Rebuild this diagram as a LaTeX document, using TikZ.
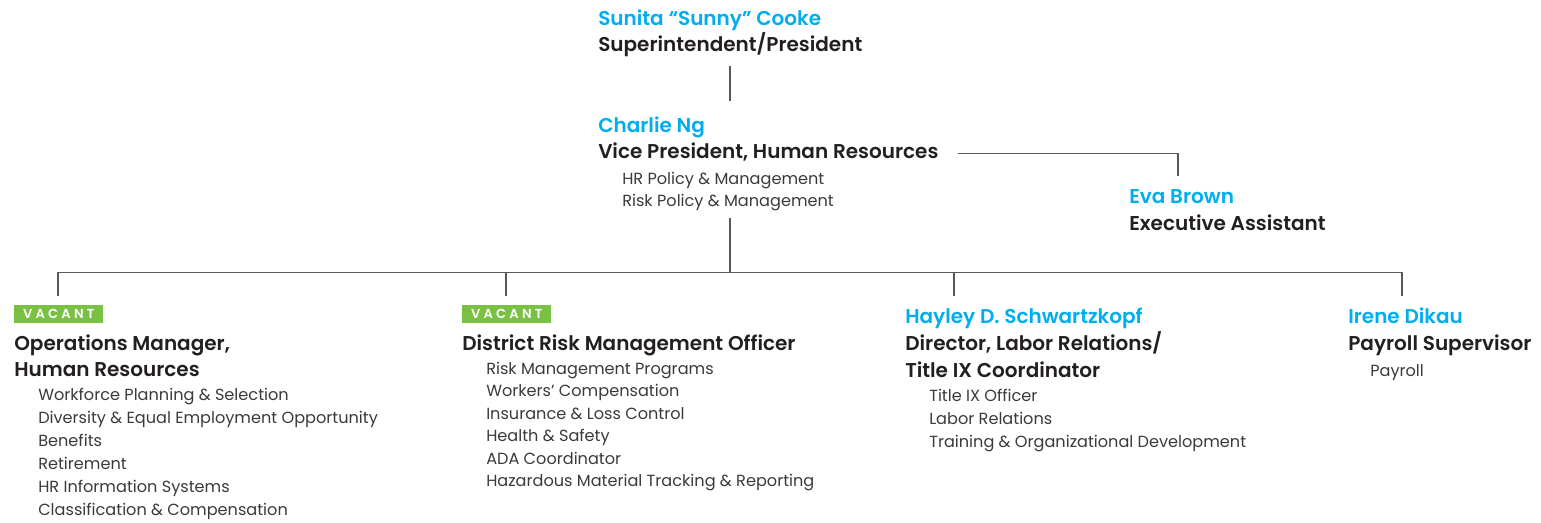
\documentclass[tikz,border=0pt]{standalone}
\usepackage{fontspec}
\setmainfont{Poppins}[BoldFont={Poppins SemiBold}]
\definecolor{namecyan}{HTML}{00AEEF}
\definecolor{titleblack}{HTML}{231F20}
\definecolor{itemgray}{HTML}{3A3A3A}
\definecolor{vacgreen}{HTML}{7AC143}
\definecolor{linegray}{HTML}{58595B}
\tikzset{
  nm/.style={anchor=base west, inner sep=0pt, text=namecyan, font=\fontsize{15}{16}\selectfont\bfseries},
  ttl/.style={anchor=base west, inner sep=0pt, text=titleblack, font=\fontsize{15}{16}\selectfont\bfseries},
  itm/.style={anchor=base west, inner sep=0pt, text=itemgray, font=\fontsize{12.1}{14}\selectfont},
  vac/.style={anchor=north west, inner sep=0pt, fill=vacgreen, text=white, minimum width=66.75pt, minimum height=13.5pt, font=\fontsize{9.8}{10}\selectfont\bfseries\addfontfeatures{LetterSpace=25}},
  conn/.style={draw=linegray, line width=1.1pt}
}
\begin{document}
\begin{tikzpicture}[x=0.75pt, y=-0.75pt]
\useasboundingbox (0,0) rectangle (1541,522);
% top
\node[nm]  (sunnyN) at (598,25)   {Sunita “Sunny” Cooke};
\node[ttl] (sunnyT) at (598,51.5) {Superintendent/President};
\node[nm]  (charlieN) at (598,132) {Charlie Ng};
\node[ttl] (charlieT) at (598,158) {Vice President, Human Resources};
\node[itm] (charlieA) at (622,184) {HR Policy \& Management};
\node[itm] (charlieB) at (622,206.5) {Risk Policy \& Management};
\node[nm]  (evaN) at (1129,203.3) {Eva Brown};
\node[ttl] (evaT) at (1129,230.7) {Executive Assistant};
% column 1
\node[vac] (vac1) at (14,305) {VACANT};
\node[ttl] (opsT1) at (14,350) {Operations Manager,};
\node[ttl] (opsT2) at (14,376.7) {Human Resources};
\node[itm] (ops1) at (38,400) {Workforce Planning \& Selection};
\node[itm] (ops2) at (38,423) {Diversity \& Equal Employment Opportunity};
\node[itm] (ops3) at (38,446) {Benefits};
\node[itm] (ops4) at (38,469) {Retirement};
\node[itm] (ops5) at (38,492) {HR Information Systems};
\node[itm] (ops6) at (38,515) {Classification \& Compensation};
% column 2
\node[vac] (vac2) at (462,305) {VACANT};
\node[ttl] (riskT) at (462,350) {District Risk Management Officer};
\node[itm] (risk1) at (486,374.3) {Risk Management Programs};
\node[itm] (risk2) at (486,396.8) {Workers’ Compensation};
\node[itm] (risk3) at (486,419.3) {Insurance \& Loss Control};
\node[itm] (risk4) at (486,441.8) {Health \& Safety};
\node[itm] (risk5) at (486,464.3) {ADA Coordinator};
\node[itm] (risk6) at (486,486.8) {Hazardous Material Tracking \& Reporting};
% column 3
\node[nm]  (hayN) at (905,323) {Hayley D. Schwartzkopf};
\node[ttl] (hayT1) at (905,350.7) {Director, Labor Relations/};
\node[ttl] (hayT2) at (905,377) {Title IX Coordinator};
\node[itm] (hay1) at (929,401.7) {Title IX Officer};
\node[itm] (hay2) at (929,424.5) {Labor Relations};
\node[itm] (hay3) at (929,447.3) {Training \& Organizational Development};
% column 4
\node[nm]  (ireN) at (1348,323) {Irene Dikau};
\node[ttl] (ireT) at (1348,350.7) {Payroll Supervisor};
\node[itm] (ire1) at (1370,376) {Payroll};
% connector coordinates
\coordinate (topA) at (730,66);
\coordinate (topB) at (730,101);
\coordinate (evaA) at (958,153.3);
\coordinate (evaB) at (1178,153.3);
\coordinate (evaC) at (1178,176);
\coordinate (midA) at (730,218);
\coordinate (bus) at (730,272.5);
\coordinate (busL) at (58,272.5);
\coordinate (busR) at (1402,272.5);
\coordinate (d1) at (58,296);
\coordinate (d2t) at (506,272.5);
\coordinate (d2) at (506,296);
\coordinate (d3t) at (954,272.5);
\coordinate (d3) at (954,296);
\coordinate (d4) at (1402,296);
\draw[conn] (topA) -- (topB);
\draw[conn] (evaA) -- (evaB) -- (evaC);
\draw[conn] (midA) -- (bus);
\draw[conn] (d1) -- (busL) -- (busR) -- (d4);
\draw[conn] (d2t) -- (d2);
\draw[conn] (d3t) -- (d3);
\end{tikzpicture}
\end{document}
